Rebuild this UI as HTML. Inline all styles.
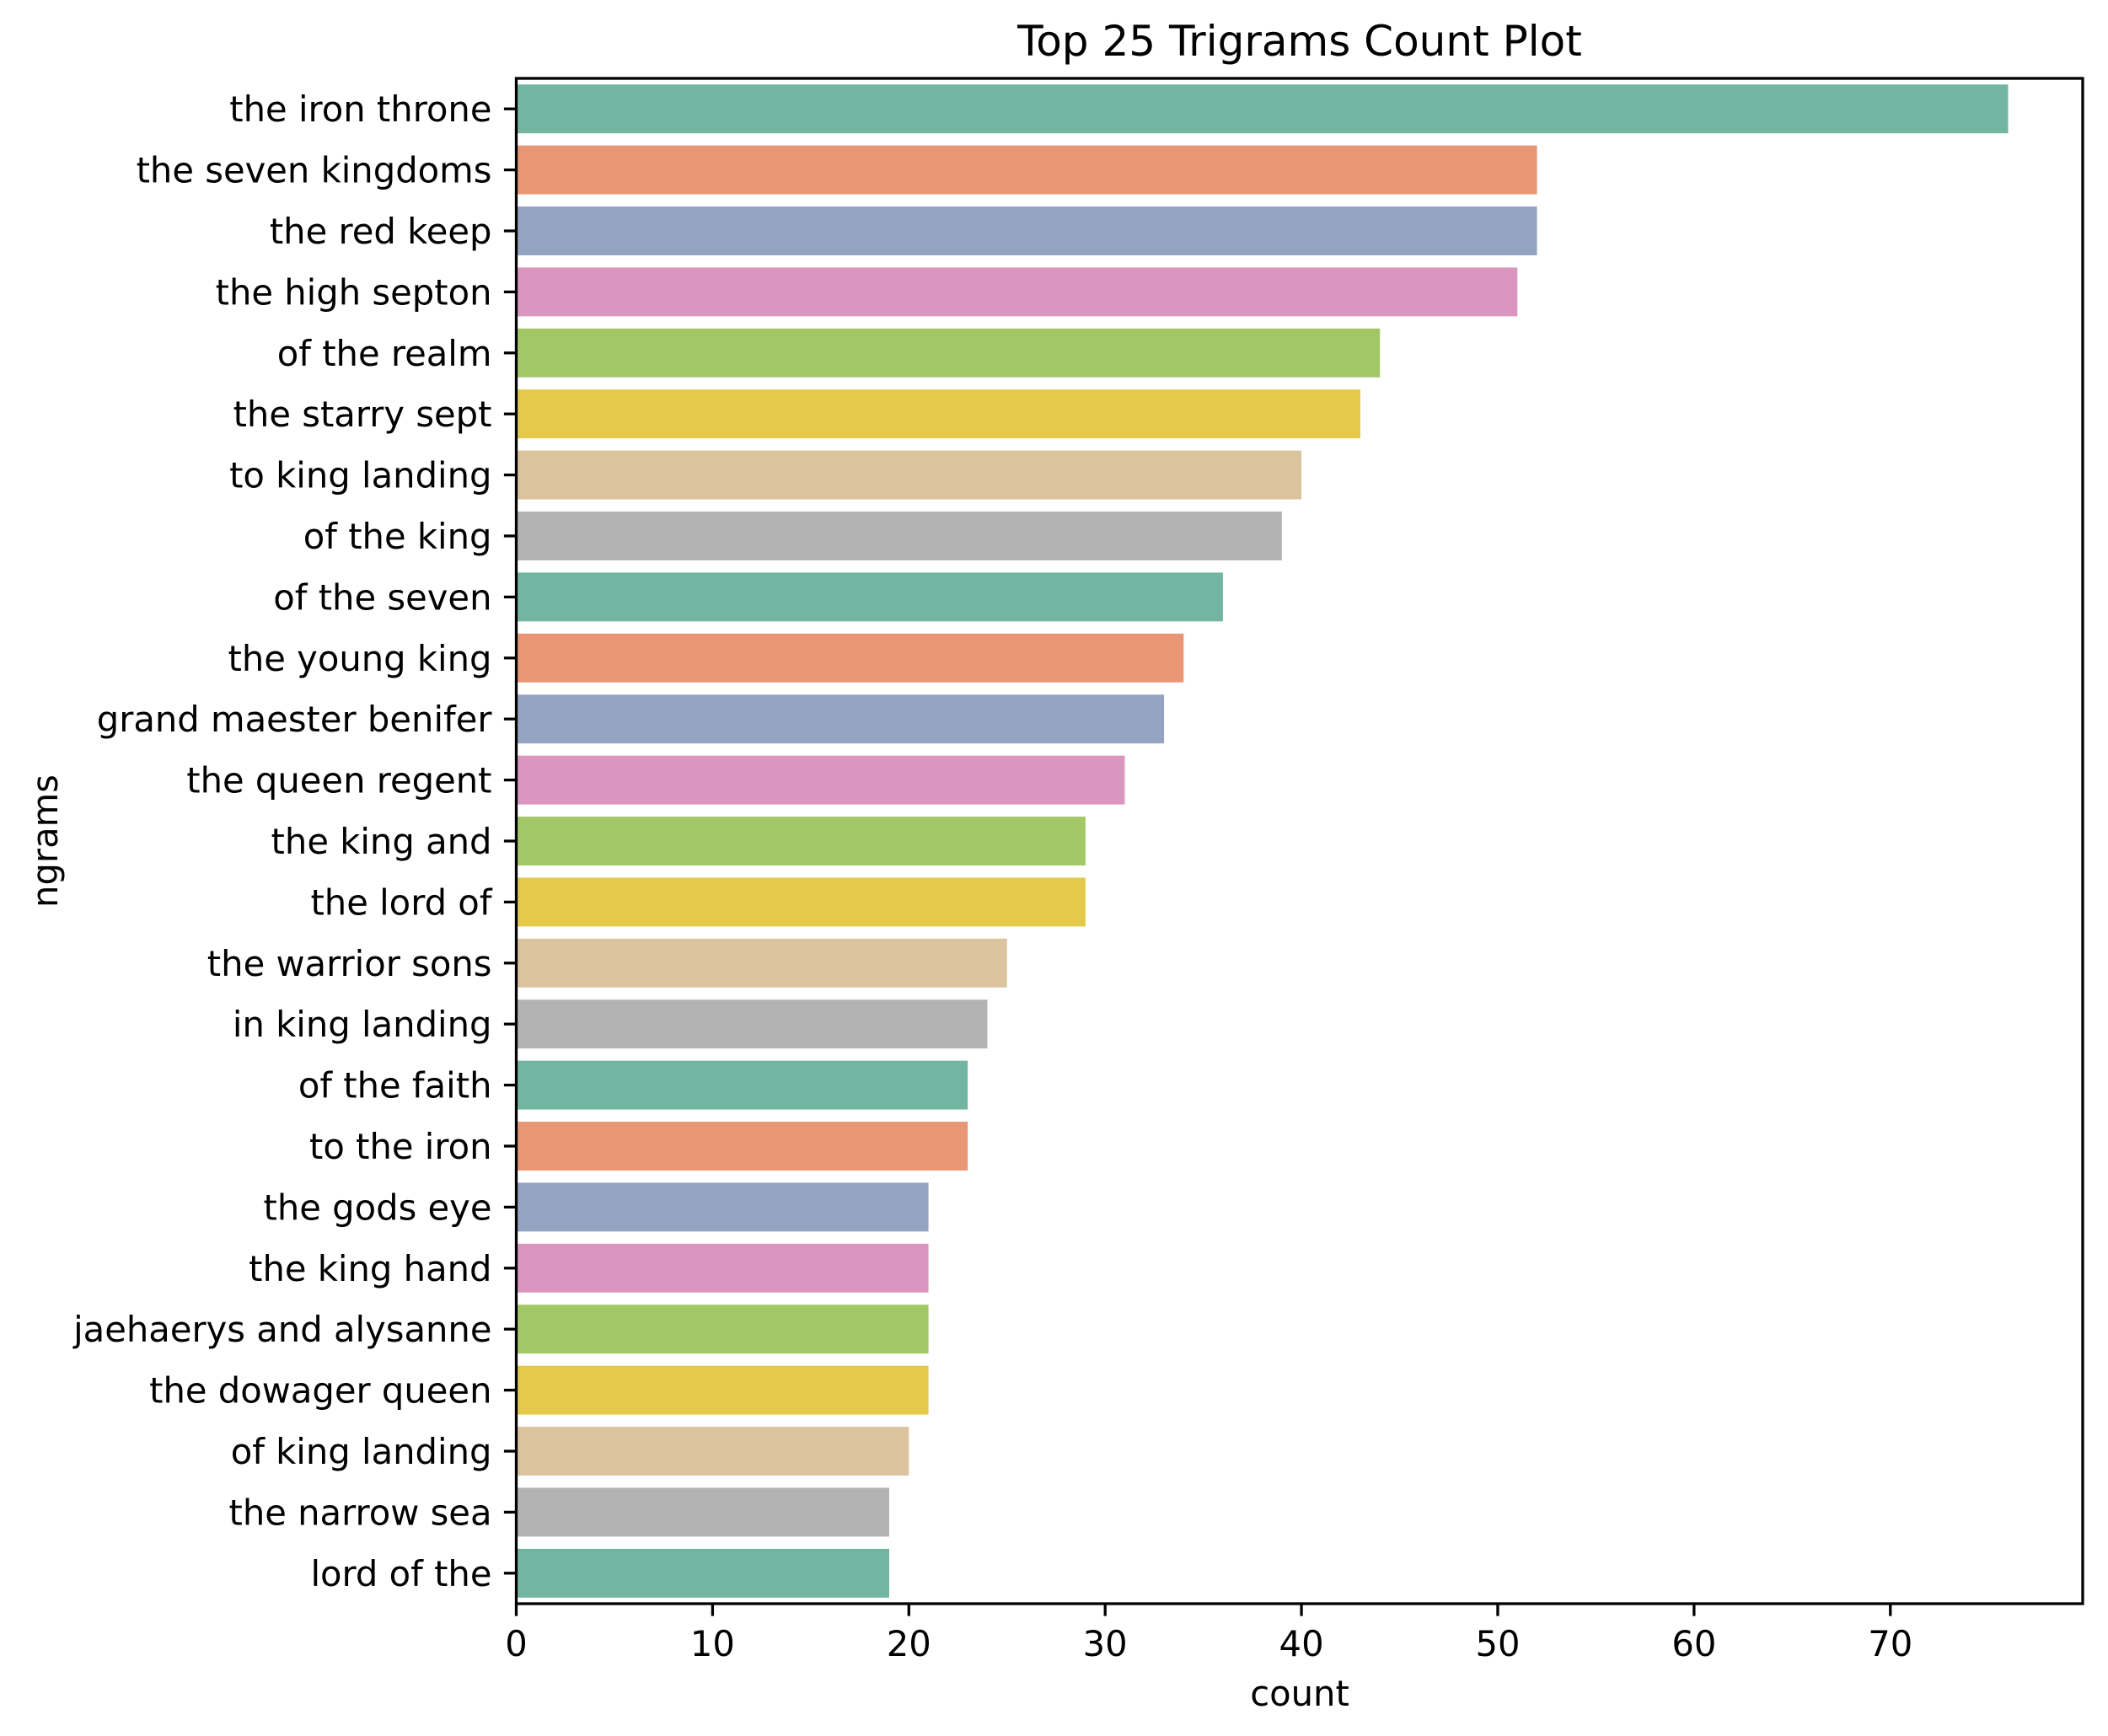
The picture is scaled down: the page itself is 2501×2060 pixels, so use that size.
<!DOCTYPE html>
<html><head><meta charset="utf-8"><style>
html,body{margin:0;padding:0;background:#fff;}
svg{display:block;font-family:"DejaVu Sans","Liberation Sans",sans-serif;}
</style></head>
<body>
<svg id="chart" width="2501" height="2060" viewBox="0 0 2501 2060" xmlns="http://www.w3.org/2000/svg">
<rect width="2501" height="2060" fill="#fff"/>
<text x="1542" y="66" font-size="50" text-anchor="middle">Top 25 Trigrams Count Plot</text>
<g id="bars"></g>
<g id="yaxis"></g>
<g id="xaxis"></g>
<rect x="612.5" y="93" width="1858.5" height="1810" fill="none" stroke="#000" stroke-width="3.3"/>
<text x="1542" y="2024" font-size="41.7" text-anchor="middle">count</text>
<text x="0" y="0" font-size="41.7" text-anchor="middle" transform="translate(68,998) rotate(-90)">ngrams</text>
</svg>
<script>
const categories = ["the iron throne","the seven kingdoms","the red keep","the high septon","of the realm","the starry sept","to king landing","of the king","of the seven","the young king","grand maester benifer","the queen regent","the king and","the lord of","the warrior sons","in king landing","of the faith","to the iron","the gods eye","the king hand","jaehaerys and alysanne","the dowager queen","of king landing","the narrow sea","lord of the"];
const counts = [76,52,52,51,44,43,40,39,36,34,33,31,29,29,25,24,23,23,21,21,21,21,20,19,19];
const xTicks = [0,10,20,30,40,50,60,70];
const palette = ["#72b6a1","#e99675","#95a3c3","#db96c0","#a2c865","#e4ca48","#dbc39e","#b3b3b3"];

const NS = "http://www.w3.org/2000/svg";
const L = 612.5, R = 2471, T = 93, B = 1903;
const xMax = 79.8;
const xs = v => L + (v / xMax) * (R - L);
const band = (B - T) / categories.length;
const yc = i => T + band * (i + 0.5);

const gb = document.getElementById("bars");
const gy = document.getElementById("yaxis");
const gx = document.getElementById("xaxis");

categories.forEach((c, i) => {
  const r = document.createElementNS(NS, "rect");
  r.setAttribute("x", xs(0));
  r.setAttribute("y", yc(i) - band * 0.4);
  r.setAttribute("width", xs(counts[i]) - xs(0));
  r.setAttribute("height", band * 0.8);
  r.setAttribute("fill", palette[i % palette.length]);
  
  
  gb.appendChild(r);

  const tk = document.createElementNS(NS, "line");
  tk.setAttribute("x1", L - 14.6); tk.setAttribute("x2", L);
  tk.setAttribute("y1", yc(i)); tk.setAttribute("y2", yc(i));
  tk.setAttribute("stroke", "#000"); tk.setAttribute("stroke-width", "3.3");
  
  
  gy.appendChild(tk);

  const t = document.createElementNS(NS, "text");
  t.setAttribute("x", L - 29);
  t.setAttribute("y", yc(i) + 15);
  t.setAttribute("font-size", "41.7");
  t.setAttribute("text-anchor", "end");
  t.textContent = c;
  
  
  gy.appendChild(t);
});

xTicks.forEach(v => {
  const tk = document.createElementNS(NS, "line");
  tk.setAttribute("x1", xs(v)); tk.setAttribute("x2", xs(v));
  tk.setAttribute("y1", B); tk.setAttribute("y2", B + 14.6);
  tk.setAttribute("stroke", "#000"); tk.setAttribute("stroke-width", "3.3");
  
  
  gx.appendChild(tk);

  const t = document.createElementNS(NS, "text");
  t.setAttribute("x", xs(v));
  t.setAttribute("y", B + 62);
  t.setAttribute("font-size", "41.7");
  t.setAttribute("text-anchor", "middle");
  t.textContent = v;
  
  
  gx.appendChild(t);
});
</script>
</body></html>
